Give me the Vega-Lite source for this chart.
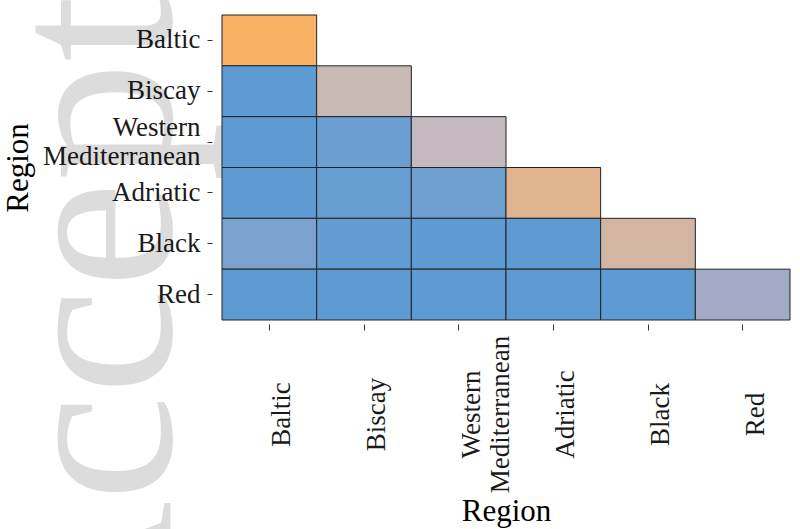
{
  "$schema": "https://vega.github.io/schema/vega-lite/v6.json",
  "autosize": "none",
  "width": 568,
  "height": 305,
  "padding": {"left": 222, "top": 15, "right": 10, "bottom": 209},
  "background": "white",
  "config": {
    "view": {"stroke": null},
    "font": "Liberation Serif"
  },
  "data": {
    "values": [
      {"col": "Baltic", "row": "Baltic", "value": 1.0},
      {"col": "Baltic", "row": "Biscay", "value": 0.0},
      {"col": "Biscay", "row": "Biscay", "value": 0.5},
      {"col": "Baltic", "row": "Western Mediterranean", "value": 0.0},
      {"col": "Biscay", "row": "Western Mediterranean", "value": 0.057},
      {"col": "Western Mediterranean", "row": "Western Mediterranean", "value": 0.45},
      {"col": "Baltic", "row": "Adriatic", "value": 0.0},
      {"col": "Biscay", "row": "Adriatic", "value": 0.044},
      {"col": "Western Mediterranean", "row": "Adriatic", "value": 0.075},
      {"col": "Adriatic", "row": "Adriatic", "value": 0.7},
      {"col": "Baltic", "row": "Black", "value": 0.128},
      {"col": "Biscay", "row": "Black", "value": 0.022},
      {"col": "Western Mediterranean", "row": "Black", "value": 0.005},
      {"col": "Adriatic", "row": "Black", "value": 0.005},
      {"col": "Black", "row": "Black", "value": 0.6},
      {"col": "Baltic", "row": "Red", "value": 0.0},
      {"col": "Biscay", "row": "Red", "value": 0.0},
      {"col": "Western Mediterranean", "row": "Red", "value": 0.0},
      {"col": "Adriatic", "row": "Red", "value": 0.0},
      {"col": "Black", "row": "Red", "value": 0.0},
      {"col": "Red", "row": "Red", "value": 0.3}
    ]
  },
  "layer": [
    {
      "mark": {"type": "rect", "stroke": "#222222", "strokeWidth": 1},
      "encoding": {
        "x": {
          "field": "col",
          "type": "nominal",
          "sort": ["Baltic", "Biscay", "Western Mediterranean", "Adriatic", "Black", "Red"],
          "scale": {"domain": ["Baltic", "Biscay", "Western Mediterranean", "Adriatic", "Black", "Red"], "paddingInner": 0, "paddingOuter": 0},
          "axis": {
            "title": "Region",
            "orient": "bottom",
            "offset": 4,
            "domain": false,
            "grid": false,
            "ticks": true,
            "tickSize": 6,
            "tickColor": "#333333",
            "tickWidth": 1,
            "labelAngle": 270,
            "labelAlign": "center",
            "labelBaseline": "top",
            "labelPadding": 84,
            "labelFontSize": 27,
            "labelFont": "Liberation Serif",
            "labelColor": "#1a1a1a",
            "labelLineHeight": 29,
            "labelLimit": 400,
            "labelOverlap": false,
            "labelFlush": false,
            "labelExpr": "datum.value == 'Western Mediterranean' ? ['Western\u00a0', 'Mediterranean'] : datum.label",
            "titleFont": "Liberation Serif",
            "titleFontSize": 31,
            "titleFontWeight": "normal",
            "titleColor": "#000000",
            "titlePadding": 4
          }
        },
        "y": {
          "field": "row",
          "type": "nominal",
          "sort": ["Baltic", "Biscay", "Western Mediterranean", "Adriatic", "Black", "Red"],
          "scale": {"domain": ["Baltic", "Biscay", "Western Mediterranean", "Adriatic", "Black", "Red"], "paddingInner": 0, "paddingOuter": 0},
          "axis": {
            "title": "Region",
            "orient": "left",
            "offset": 10,
            "domain": false,
            "grid": false,
            "ticks": true,
            "tickSize": 5,
            "tickColor": "#333333",
            "tickWidth": 1,
            "labelPadding": 7,
            "labelFontSize": 27,
            "labelFont": "Liberation Serif",
            "labelColor": "#1a1a1a",
            "labelLineHeight": 29,
            "labelLimit": 400,
            "labelOverlap": false,
            "labelFlush": false,
            "labelOffset": {"condition": {"test": "datum.value == 'Western Mediterranean'", "value": -14}, "value": 0},
            "labelExpr": "datum.value == 'Western Mediterranean' ? ['Western\u00a0', 'Mediterranean'] : datum.label",
            "titleFont": "Liberation Serif",
            "titleFontSize": 31,
            "titleFontWeight": "normal",
            "titleColor": "#000000",
            "titlePadding": 8
          }
        },
        "fill": {
          "field": "value",
          "type": "quantitative",
          "scale": {
            "type": "linear",
            "domain": [0, 0.3, 0.45, 0.5, 0.6, 0.7, 1],
            "range": ["#5E9BD3", "#A2AAC8", "#C4B9BF", "#C9BAB6", "#D3B5A4", "#E0B38F", "#F8B062"],
            "interpolate": "rgb"
          },
          "legend": null
        }
      }
    },
    {
      "mark": {"type": "rect", "opacity": 0},
      "encoding": {
        "x": {"field": "col", "type": "nominal"},
        "y": {
          "field": "row",
          "type": "nominal",
          "axis": {
            "title": "Accepted",
            "orient": "right",
            "offset": 0,
            "domain": false,
            "grid": false,
            "ticks": false,
            "labels": false,
            "titleFont": "Liberation Serif",
            "titleFontSize": 240,
            "titleFontWeight": "normal",
            "titleColor": "rgba(0,0,0,0.137)",
            "titleAngle": 270,
            "titleAlign": "center",
            "titleBaseline": "alphabetic",
            "titleLimit": 3000,
            "titleX": -620,
            "titleY": 206
          }
        }
      }
    }
  ],
  "resolve": {"axis": {"y": "independent"}}
}
